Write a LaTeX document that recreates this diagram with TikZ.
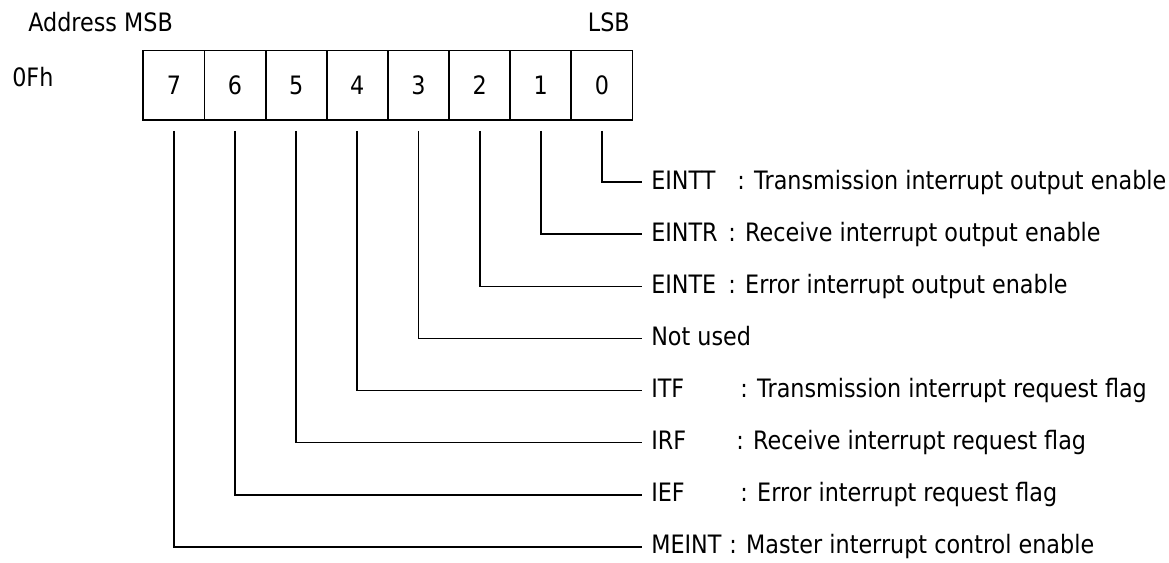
\documentclass[tikz,border=0pt]{standalone}
\usepackage{fontspec}
\setmainfont{DejaVu Sans}[FakeStretch=0.88]
\begin{document}
\begin{tikzpicture}[x=0.75pt,y=-0.75pt,
  lbl/.style={inner sep=0pt,font=\fontsize{19}{23}\selectfont},
  cell/.style={draw,line width=1.4pt,minimum width=45.86pt,minimum height=52.1pt,inner sep=0pt,font=\fontsize{19}{23}\selectfont},
  conn/.style={line width=1.3pt},
  bitname/.style={lbl,anchor=base west},
  desc/.style={lbl,anchor=base west}]
\useasboundingbox (0,0) rectangle (1169,563);
\node[lbl,anchor=base west] (addr) at (28,32) {Address MSB};
\node[lbl,anchor=base east] (lsb) at (630,32) {LSB};
\node[lbl,anchor=base west] (reg) at (12,86.7) {0Fh};
\foreach \i in {0,...,7}{
  \node[cell] (c\i) at ({143.3+61.15*(7-\i)+30.575},85.25) {\i};
}
\foreach \i/\nm/\cx/\ds in {
  0/EINTT/737/{: Transmission interrupt output enable},
  1/EINTR/728/{: Receive interrupt output enable},
  2/EINTE/728/{: Error interrupt output enable},
  3/{Not used}/0/{},
  4/ITF/740/{: Transmission interrupt request flag},
  5/IRF/736/{: Receive interrupt request flag},
  6/IEF/740/{: Error interrupt request flag},
  7/MEINT/729/{: Master interrupt control enable}}{
  \coordinate (e\i) at (642,{182.3+52.06*\i});
  \node[bitname] (n\i) at (651,{189.3+52.06*\i}) {\nm};
  \ifnum\cx>0
    \node[desc] (d\i) at (\cx,{189.3+52.06*\i}) {\ds};
  \fi
  \draw[conn] ([yshift=-7.5pt]c\i.south) |- (e\i);
}
\end{tikzpicture}
\end{document}
